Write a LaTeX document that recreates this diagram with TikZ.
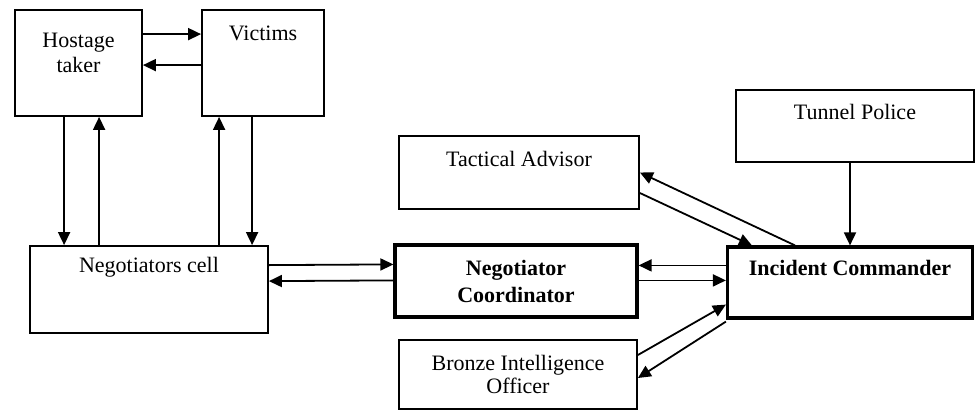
\documentclass[tikz,border=0pt]{standalone}
\usepackage{fontspec}
\setmainfont{Liberation Serif}
\usepackage{tikz}
\usetikzlibrary{arrows.meta,positioning,calc}
\tikzset{
  box/.style={draw, line width=1.8pt, inner sep=0pt},
  bigbox/.style={draw, line width=3.2pt, inner sep=0pt},
  boxtxt/.style={inner sep=0pt, align=center, font=\fontsize{22}{25}\selectfont},
  flow/.style={-{Triangle[length=13pt,width=12pt]}, line width=1.8pt},
}

\begin{document}
\begin{tikzpicture}[x=1pt, y=-1pt]
    \useasboundingbox (0,0) rectangle (976,410);
    % Boxes on the left
    \node[box, minimum width=127, minimum height=106] (ht) at (78.5,63) {};
    \node[box, minimum width=122, minimum height=106] (vic) at (263,63) {};
    \node[box, minimum width=238, minimum height=87] (nc) at (149,289.5) {};
    % Boxes on the right
    \node[box, minimum width=240, minimum height=73] (ta) at (519,172.5) {};
    \node[bigbox, minimum width=242, minimum height=72] (ncoord) at (516,281) {};
    \node[box, minimum width=238, minimum height=69] (bio) at (518,374.5) {};
    \node[bigbox, minimum width=245, minimum height=71] (ic) at (850,282.5) {};
    \node[box, minimum width=238, minimum height=72] (tp) at (855,126) {};
    % Texts
    \node[boxtxt] (ht-t) at ([yshift=-43.5pt]ht.north) {Hostage\\taker};
    \node[boxtxt] (vic-t) at ([yshift=-24pt]vic.north) {Victims};
    \node[boxtxt] (nc-t) at ([yshift=-22pt]nc.north) {Negotiators cell};
    \node[boxtxt] (ta-t) at ([yshift=-24pt]ta.north) {Tactical Advisor};
    \node[boxtxt, font=\fontsize{22}{27}\selectfont\bfseries] (ncoord-t) at (ncoord) {Negotiator\\Coordinator};
    \node[boxtxt, font=\fontsize{22}{23}\selectfont] (bio-t) at (bio) {Bronze Intelligence\\Officer};
    \node[boxtxt, font=\fontsize{22}{25}\selectfont\bfseries] (ic-t) at ([yshift=-23pt]ic.north) {Incident Commander};
    \node[boxtxt] (tp-t) at ([yshift=-23pt]tp.north) {Tunnel Police};
    % Hostage taker and victims
    \draw[flow] ($(ht.north east)+(0,25)$) -- ($(vic.north west)+(0,25)$);
    \draw[flow] ($(vic.north west)+(0,56)$) -- ($(ht.north east)+(0,56)$);
    \draw[flow] ($(ht.south west)+(50,0)$) coordinate (p1) -- (p1 |- nc.north);
    \draw[flow] ($(nc.north west)+(70,0)$) coordinate (p2) -- (p2 |- ht.south);
    \draw[flow] ($(nc.north west)+(190,0)$) coordinate (p3) -- (p3 |- vic.south);
    \draw[flow] ($(vic.south west)+(51,0)$) coordinate (p4) -- (p4 |- nc.north);
    % Negotiators cell and coordinator
    \draw[flow] ($(nc.north east)+(0,20)$) -- ($(ncoord.north west)+(0,21)$);
    \draw[flow] ($(ncoord.north west)+(0,37)$) -- ($(nc.north east)+(0,36)$);
    \draw[flow] ($(ic.north west)+(0,20)$) -- ($(ncoord.north east)+(0,22)$);
    \draw[flow] ($(ncoord.north east)+(0,37)$) -- ($(ic.north west)+(0,35)$);
    % Advisors and police
    \draw[flow] ($(ic.north)+(-55,0)$) -- (ta.east);
    \draw[flow] ($(ta.east)+(0,20.5)$) -- ($(ic.north west)+(26,0)$);
    \draw[flow] ($(bio.east)+(0,-19.5)$) -- ($(ic.south west)+(0,-15)$);
    \draw[flow] ($(ic.south west)+(0,2)$) -- ($(bio.east)+(0,3.5)$);
    \draw[flow] (ic.north |- tp.south) -- (ic.north);
\end{tikzpicture}
\end{document}
